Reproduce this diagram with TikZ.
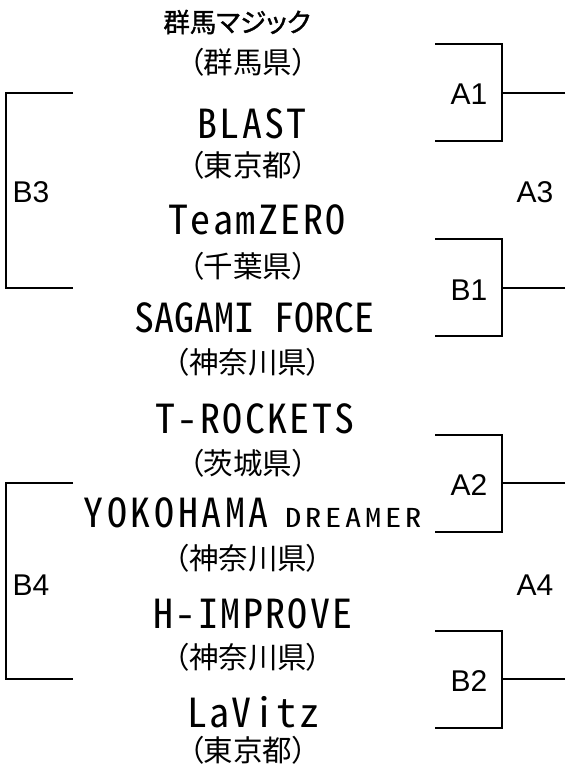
\documentclass[tikz,border=0pt]{standalone}
\usepackage{fontspec}
\usepackage{graphicx}
\newfontfamily\jpf[RawFeature=+palt]{Noto Sans CJK JP}
\newfontfamily\jpbold[RawFeature=+palt,FakeBold=1.2]{Noto Sans CJK JP}
\newfontfamily\latf[RawFeature=+hwid,LetterSpace=6]{Noto Sans CJK JP}
\newfontfamily\latn[RawFeature=+hwid]{Noto Sans CJK JP}
\newfontfamily\laty[RawFeature=+hwid,LetterSpace=9]{Noto Sans CJK JP}
\newfontfamily\latd[RawFeature=+hwid,LetterSpace=12]{Noto Sans CJK JP}
\newfontfamily\labf{Liberation Sans}
\begin{document}
\begin{tikzpicture}[x=1pt,y=-1pt,
  every node/.style={inner sep=0pt,outer sep=0pt},
  team/.style={font=\latf\fontsize{40}{40}\selectfont},
  pref/.style={font=\jpf\fontsize{29.5}{29.5}\selectfont},
  rnd/.style={font=\labf\fontsize{30}{30}\selectfont},
  br/.style={draw=black,line width=2pt}]
\useasboundingbox (0,0) rectangle (565,776);
% teams
\node[font=\jpbold\fontsize{26.5}{26.5}\selectfont] (t1) at (237,22) {群馬マジック};
\node[pref] (p1) at (248,62) {（群馬県）};
\node[team] (t2) at (252,124) {BLAST};
\node[pref] (p2) at (248,165) {（東京都）};
\node[team] (t3) at (257,220) {TeamZERO};
\node[pref] (p3) at (248,266) {（千葉県）};
\node[team,font=\latn\fontsize{40}{40}\selectfont] (t4) at (254,318) {SAGAMI FORCE};
\node[pref] (p4) at (248,362) {（神奈川県）};
\node[team] (t5) at (255,419) {T-ROCKETS};
\node[pref] (p5) at (248,463) {（茨城県）};
\node (t6) at (253,513) {\laty\fontsize{40}{40}\selectfont YOKOHAMA\hspace{16pt}\scalebox{1.25}[1]{\latd\fontsize{26}{26}\selectfont DREAMER}};
\node[pref] (p6) at (248,558) {（神奈川県）};
\node[team] (t7) at (253,614) {H-IMPROVE};
\node[pref] (p7) at (248,657) {（神奈川県）};
\node[team] (t8) at (253,712) {LaVitz};
\node[pref] (p8) at (248,750) {（東京都）};
% right brackets
\coordinate (A1t) at (435,44);  \coordinate (A1b) at (435,141); \coordinate (A1o) at (565,92.5);
\coordinate (B1t) at (435,239); \coordinate (B1b) at (435,336); \coordinate (B1o) at (565,288);
\coordinate (A2t) at (435,435); \coordinate (A2b) at (435,532); \coordinate (A2o) at (565,483);
\coordinate (B2t) at (435,631); \coordinate (B2b) at (435,728); \coordinate (B2o) at (565,679);
\foreach \m in {A1,B1,A2,B2}{
  \draw[br] (\m t) -- ++(67,0) |- (\m b);
  \draw[br] (\m o) -- ++(-63,0);
}
% left brackets
\coordinate (B3t) at (73,92.5); \coordinate (B3b) at (73,288);
\coordinate (B4t) at (73,483);  \coordinate (B4b) at (73,679);
\foreach \m in {B3,B4}{
  \draw[br] (\m t) -- ++(-67,0) |- (\m b);
}
% round labels
\node[rnd] (lA1) at (469,94) {A1};
\node[rnd] (lB1) at (469,290) {B1};
\node[rnd] (lA2) at (469,485) {A2};
\node[rnd] (lB2) at (469,681) {B2};
\node[rnd] (lA3) at (535,192) {A3};
\node[rnd] (lA4) at (535,585) {A4};
\node[rnd] (lB3) at (31,192) {B3};
\node[rnd] (lB4) at (31,585) {B4};
\end{tikzpicture}
\end{document}
